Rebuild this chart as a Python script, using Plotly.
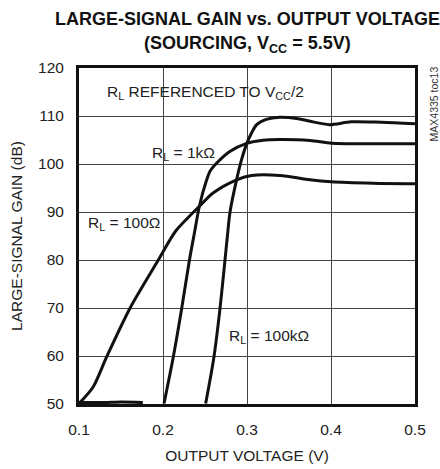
import plotly.graph_objects as go

# ---- data ----
x_100 = [0.100, 0.117, 0.133, 0.1607, 0.1944, 0.2083, 0.2163, 0.2433, 0.260, 0.2877, 0.3056, 0.339, 0.375, 0.400, 0.450, 0.500]
y_100 = [50.1, 53.6, 59.85, 69.96, 80.0, 84.2, 86.3, 91.2, 94.0, 96.7, 97.6, 97.6, 96.7, 96.3, 96.0, 95.9]

x_1k = [0.100, 0.130, 0.150, 0.176, None, 0.2012, 0.2123, 0.2223, 0.2315, 0.238, 0.2433, 0.252, 0.256, 0.264, 0.280, 0.2996, 0.319, 0.339, 0.375, 0.401, 0.450, 0.500]
y_1k = [50.3, 50.3, 50.4, 50.3, None, 50.1, 59.85, 69.96, 80.0, 86.2, 91.2, 96.7, 98.5, 100.2, 102.65, 104.3, 104.95, 105.1, 104.9, 104.3, 104.2, 104.2]

x_100k = [0.2508, 0.2607, 0.2679, 0.2738, 0.2766, 0.2798, 0.2877, 0.2937, 0.2996, 0.3056, 0.3115, 0.323, 0.339, 0.359, 0.375, 0.398, 0.424, 0.460, 0.500]
y_100k = [50.1, 59.85, 69.96, 80.0, 84.9, 90.0, 96.8, 101.0, 104.2, 106.5, 108.2, 109.3, 109.75, 109.5, 108.9, 108.2, 108.8, 108.7, 108.4]

x_ticks = [0.1, 0.2, 0.3, 0.4, 0.5]
x_ticklabels = ["0.1", "0.2", "0.3", "0.4", "0.5"]
y_ticks = [50, 60, 70, 80, 90, 100, 110, 120]

title_lines = ["LARGE-SIGNAL GAIN vs. OUTPUT VOLTAGE", "(SOURCING, V<sub>CC</sub> = 5.5V)"]
title_y = [1.147, 1.071]
x_title = "OUTPUT VOLTAGE (V)"
y_title = "LARGE-SIGNAL GAIN (dB)"

label_texts = ["R<sub>L</sub> REFERENCED TO V<sub>CC</sub>/2", "R<sub>L</sub> = 1kΩ", "R<sub>L</sub> = 100Ω", "R<sub>L</sub> = 100kΩ"]
label_x = [0.131, 0.1845, 0.108, 0.276]
label_y = [114.8, 102.2, 87.6, 64.0]

FONT = "Liberation Sans, Arial, sans-serif"
FS = 15.5
TXT = "#222222"

fig = go.Figure()
for xs, ys in [(x_100, y_100), (x_1k, y_1k), (x_100k, y_100k)]:
    fig.add_trace(go.Scatter(
        x=xs, y=ys, mode="lines",
        line=dict(color="#111111", width=3, shape="spline", smoothing=0.8),
        connectgaps=False, showlegend=False, hoverinfo="skip", cliponaxis=True))

for t, x, y in zip(label_texts, label_x, label_y):
    fig.add_annotation(x=x, y=y, xref="x", yref="y", text=t, showarrow=False,
                       xanchor="left", yanchor="middle",
                       font=dict(family=FONT, size=FS, color=TXT))

for t, y in zip(title_lines, title_y):
    fig.add_annotation(x=0.5, y=y, xref="paper", yref="paper", text=t, showarrow=False,
                       xanchor="center", yanchor="middle",
                       font=dict(family=FONT, size=18, color="#111111", weight="bold"))

fig.add_annotation(x=1.057, y=0.892, xref="paper", yref="paper", text="MAX4335 toc13",
                   showarrow=False, textangle=-90, xanchor="center", yanchor="middle",
                   font=dict(family=FONT, size=10.5, color="#333333"))

fig.update_layout(
    width=440, height=469,
    margin=dict(l=79, r=25, t=68, b=65),
    paper_bgcolor="white", plot_bgcolor="white",
    font=dict(family=FONT, size=FS, color=TXT),
)

fig.update_xaxes(
    range=[0.1, 0.5], tickvals=x_ticks, ticktext=x_ticklabels, automargin=False,
    showgrid=True, gridcolor="#444444", gridwidth=1,
    showline=True, linecolor="#111111", linewidth=3, mirror=True,
    ticks="", ticklabelstandoff=9, zeroline=False,
    tickfont=dict(family=FONT, size=FS, color=TXT),
    title=dict(text=x_title, font=dict(family=FONT, size=FS, color=TXT), standoff=14),
)
fig.update_yaxes(
    range=[50, 120], tickvals=y_ticks, automargin=False,
    showgrid=True, gridcolor="#444444", gridwidth=1,
    showline=True, linecolor="#111111", linewidth=3, mirror=True,
    ticks="", ticklabelstandoff=9, zeroline=False,
    tickfont=dict(family=FONT, size=FS, color=TXT),
    title=dict(text=y_title, font=dict(family=FONT, size=FS, color=TXT), standoff=12),
)

fig.write_html("out.html", config={"displayModeBar": False},
               post_script="document.body.style.margin='0';")
